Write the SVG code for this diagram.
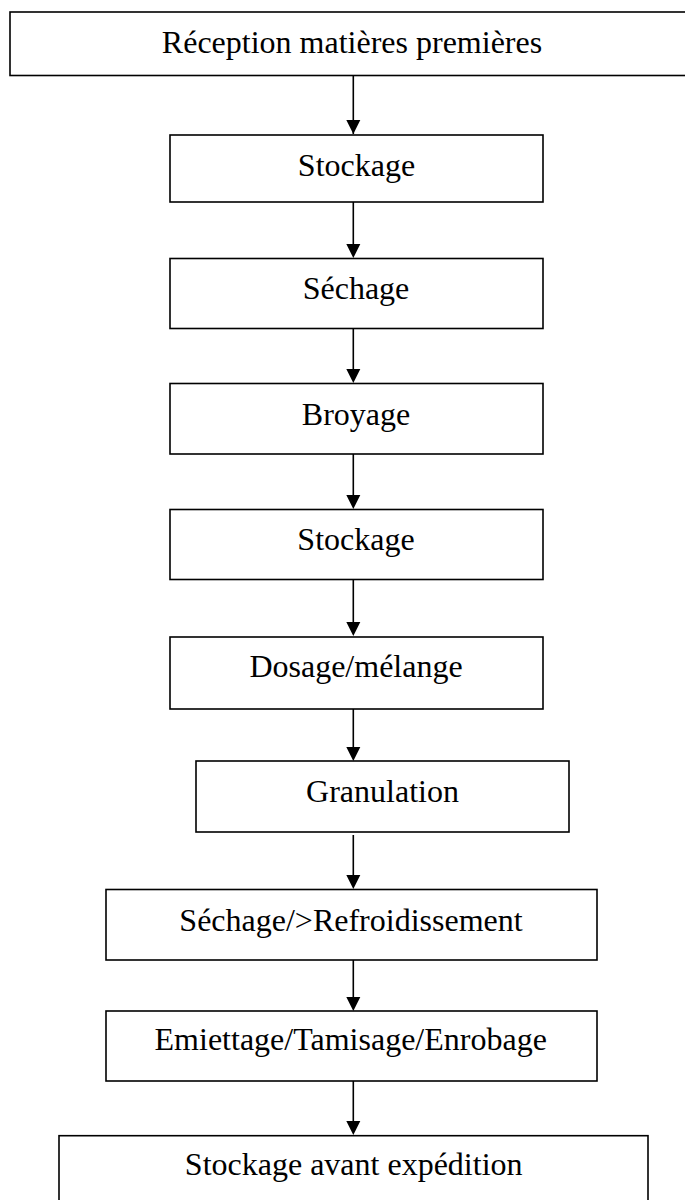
<svg xmlns="http://www.w3.org/2000/svg" width="685" height="1200" viewBox="0 0 685 1200">
<style>
.box{fill:#fff;stroke:#000;stroke-width:1.6}
.lbl{font-family:"Liberation Serif","Times New Roman",serif;font-size:32px;fill:#000;text-anchor:middle}
.conn{stroke:#000;stroke-width:1.6;fill:none;marker-end:url(#ah)}
</style>
<defs>
<marker id="ah" markerUnits="userSpaceOnUse" markerWidth="14" markerHeight="14" viewBox="0 0 14 14" refX="7" refY="14" orient="auto-start-reverse">
<path d="M0,0 L14,0 L7,14 Z" fill="#000"/>
</marker>
</defs>
<rect width="685" height="1200" fill="#fff"/>
<g id="connectors">
<line class="conn" x1="353.3" y1="75.5" x2="353.3" y2="134" style="marker-end:none"/>
<path d="M346.3,120 L360.3,120 L353.3,134 Z" fill="#000"/>
<line x1="353.3" y1="202" x2="353.3" y2="246" stroke="#000" stroke-width="1.6"/>
<path d="M346.3,244 L360.3,244 L353.3,258 Z" fill="#000"/>
<line x1="353.3" y1="328.5" x2="353.3" y2="371" stroke="#000" stroke-width="1.6"/>
<path d="M346.3,369 L360.3,369 L353.3,383 Z" fill="#000"/>
<line x1="353.3" y1="454" x2="353.3" y2="497" stroke="#000" stroke-width="1.6"/>
<path d="M346.3,495 L360.3,495 L353.3,509 Z" fill="#000"/>
<line x1="353.3" y1="579.5" x2="353.3" y2="624" stroke="#000" stroke-width="1.6"/>
<path d="M346.3,622 L360.3,622 L353.3,636 Z" fill="#000"/>
<line x1="353.3" y1="709" x2="353.3" y2="749" stroke="#000" stroke-width="1.6"/>
<path d="M346.3,747 L360.3,747 L353.3,761 Z" fill="#000"/>
<line x1="353.3" y1="835" x2="353.3" y2="877" stroke="#000" stroke-width="1.6"/>
<path d="M346.3,875 L360.3,875 L353.3,889 Z" fill="#000"/>
<line x1="353.3" y1="960" x2="353.3" y2="999" stroke="#000" stroke-width="1.6"/>
<path d="M346.3,997 L360.3,997 L353.3,1011 Z" fill="#000"/>
<line x1="353.3" y1="1081" x2="353.3" y2="1123" stroke="#000" stroke-width="1.6"/>
<path d="M346.3,1121 L360.3,1121 L353.3,1135 Z" fill="#000"/>
</g>
<g id="n1"><rect class="box" x="10" y="12" width="690" height="63.5"/><text class="lbl" x="352" y="53">Réception matières premières</text></g>
<g id="n2"><rect class="box" x="170" y="135" width="373" height="67"/><text class="lbl" x="356.5" y="176">Stockage</text></g>
<g id="n3"><rect class="box" x="170" y="258.5" width="373" height="70"/><text class="lbl" x="356" y="298.5">Séchage</text></g>
<g id="n4"><rect class="box" x="170" y="383.5" width="373" height="70.5"/><text class="lbl" x="356" y="425">Broyage</text></g>
<g id="n5"><rect class="box" x="170" y="509.5" width="373" height="70"/><text class="lbl" x="356" y="550">Stockage</text></g>
<g id="n6"><rect class="box" x="170" y="637" width="373" height="72"/><text class="lbl" x="356" y="677">Dosage/mélange</text></g>
<g id="n7"><rect class="box" x="196" y="761" width="373" height="71"/><text class="lbl" x="382.5" y="801.5">Granulation</text></g>
<g id="n8"><rect class="box" x="106" y="889.5" width="491" height="70.5"/><text class="lbl" x="351" y="930.5">Séchage/&gt;Refroidissement</text></g>
<g id="n9"><rect class="box" x="106" y="1011" width="491" height="70"/><text class="lbl" x="350.7" y="1050">Emiettage/Tamisage/Enrobage</text></g>
<g id="n10"><rect class="box" x="59" y="1135.7" width="589" height="80"/><text class="lbl" x="353.7" y="1175">Stockage avant expédition</text></g>
</svg>
